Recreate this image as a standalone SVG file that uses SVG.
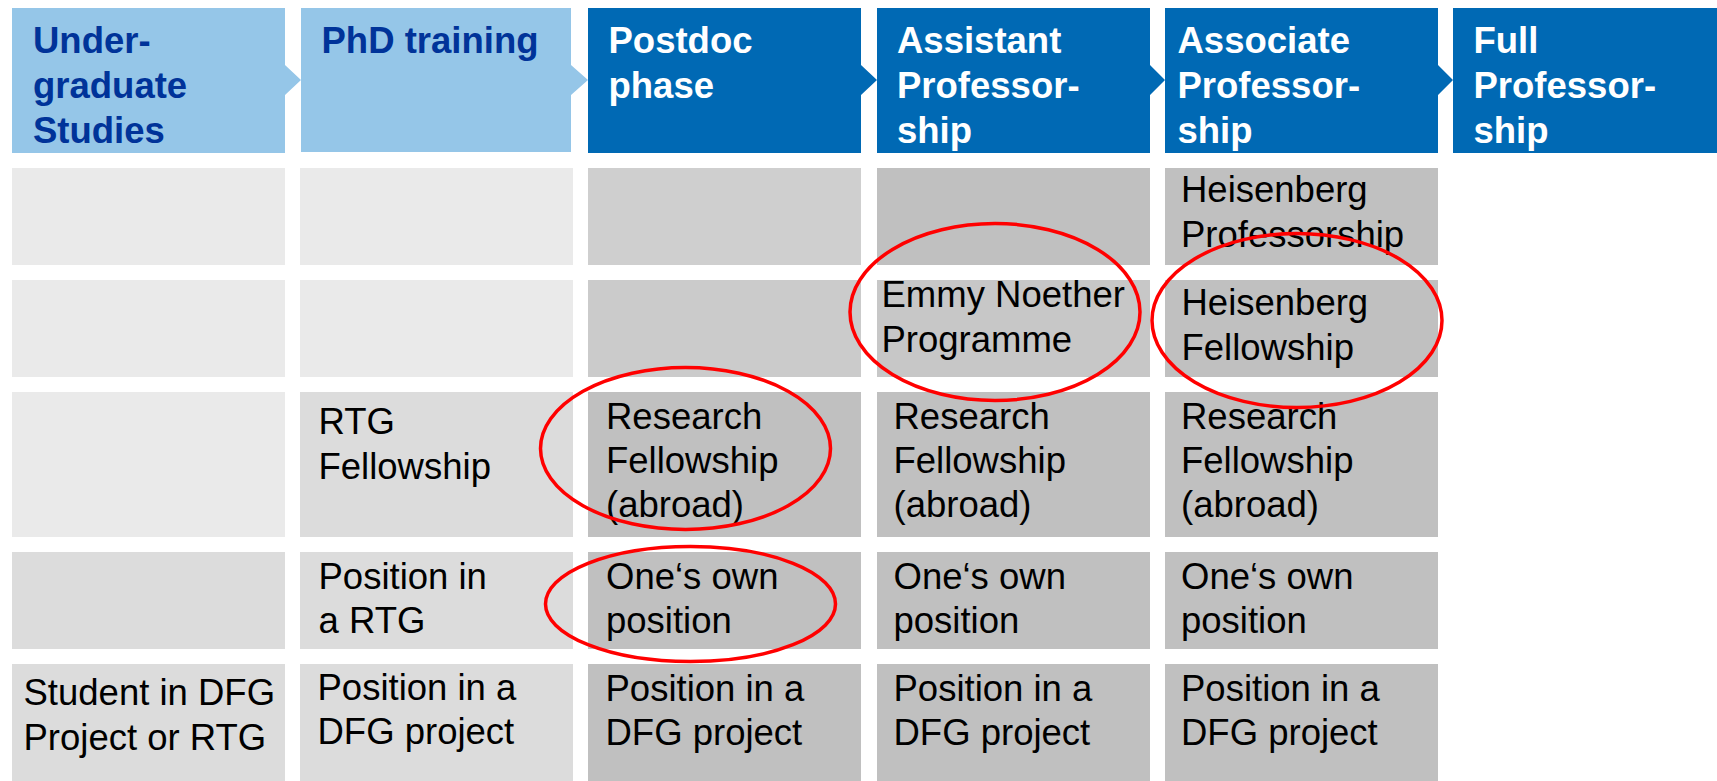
<svg xmlns="http://www.w3.org/2000/svg" width="1717" height="781" viewBox="0 0 1717 781">
<style>
.hl{fill:#95C6E8}
.hd{fill:#0069B4}
.th{font-family:"Liberation Sans",Arial,sans-serif;font-weight:bold;font-size:36.5px}
.thl{fill:#003399}
.thd{fill:#FFFFFF}
.t{font-family:"Liberation Sans",Arial,sans-serif;font-size:36.5px;fill:#000000}
.g1{fill:#EAEAEA}
.g2{fill:#DCDCDC}
.g3{fill:#CFCFCF}
.g3b{fill:#CBCBCB}
.g4{fill:#C0C0C0}
.g4b{fill:#C7C7C7}
.ring{fill:none;stroke:#FF0000;stroke-width:3.5}
</style>
<rect width="1717" height="781" fill="#FFFFFF"/>
<g id="headers">
<g id="h-undergrad">
<polygon class="hl" points="12,8 285,8 285,65 301,80 285,95 285,153 12,153"/>
<text class="th thl" x="33" y="53">Under-</text>
<text class="th thl" x="33" y="98">graduate</text>
<text class="th thl" x="33" y="143">Studies</text>
</g>
<g id="h-phd">
<polygon class="hl" points="301,8 571,8 571,65 588,80 571,95 571,152 301,152"/>
<text class="th thl" x="321.5" y="53">PhD training</text>
</g>
<g id="h-postdoc">
<polygon class="hd" points="588,8 861,8 861,65 877,80 861,95 861,153 588,153"/>
<text class="th thd" x="608.5" y="53">Postdoc</text>
<text class="th thd" x="608.5" y="98">phase</text>
</g>
<g id="h-assistant">
<polygon class="hd" points="877,8 1150,8 1150,65 1165,80 1150,95 1150,153 877,153"/>
<text class="th thd" x="897" y="53">Assistant</text>
<text class="th thd" x="897" y="98">Professor-</text>
<text class="th thd" x="897" y="143">ship</text>
</g>
<g id="h-associate">
<polygon class="hd" points="1165,8 1438,8 1438,65 1453,80 1438,95 1438,153 1165,153"/>
<text class="th thd" x="1177.5" y="53">Associate</text>
<text class="th thd" x="1177.5" y="98">Professor-</text>
<text class="th thd" x="1177.5" y="143">ship</text>
</g>
<g id="h-full">
<rect class="hd" x="1453" y="8" width="264" height="145"/>
<text class="th thd" x="1473.5" y="53">Full</text>
<text class="th thd" x="1473.5" y="98">Professor-</text>
<text class="th thd" x="1473.5" y="143">ship</text>
</g>
</g>
<g id="grid">
<g id="c1r1"><rect class="g1" x="12" y="168" width="273" height="97"/></g>
<g id="c1r2"><rect class="g1" x="12" y="280" width="273" height="97"/></g>
<g id="c1r3"><rect class="g1" x="12" y="392" width="273" height="145"/></g>
<g id="c1r4"><rect class="g2" x="12" y="552" width="273" height="97"/></g>
<g id="c1r5"><rect class="g2" x="12" y="664" width="273" height="117"/>
<text class="t" x="23.5" y="705">Student in DFG</text>
<text class="t" x="23.5" y="750">Project or RTG</text></g>

<g id="c2r1"><rect class="g1" x="300" y="168" width="273" height="97"/></g>
<g id="c2r2"><rect class="g1" x="300" y="280" width="273" height="97"/></g>
<g id="c2r3"><rect class="g2" x="300" y="392" width="273" height="145"/>
<text class="t" x="318.5" y="434">RTG</text>
<text class="t" x="318.5" y="479">Fellowship</text></g>
<g id="c2r4"><rect class="g2" x="300" y="552" width="273" height="97"/>
<text class="t" x="318.5" y="589">Position in</text>
<text class="t" x="318.5" y="633">a RTG</text></g>
<g id="c2r5"><rect class="g2" x="300" y="664" width="273" height="117"/>
<text class="t" x="317.5" y="700">Position in a</text>
<text class="t" x="317.5" y="744">DFG project</text></g>

<g id="c3r1"><rect class="g3" x="588" y="168" width="273" height="97"/></g>
<g id="c3r2"><rect class="g3b" x="588" y="280" width="273" height="97"/></g>
<g id="c3r3"><rect class="g4" x="588" y="392" width="273" height="145"/>
<text class="t" x="606" y="429">Research</text>
<text class="t" x="606" y="473">Fellowship</text>
<text class="t" x="606" y="517">(abroad)</text></g>
<g id="c3r4"><rect class="g4" x="588" y="552" width="273" height="97"/>
<text class="t" x="606" y="588.5">One‘s own</text>
<text class="t" x="606" y="633">position</text></g>
<g id="c3r5"><rect class="g4" x="588" y="664" width="273" height="117"/>
<text class="t" x="605.5" y="700.5">Position in a</text>
<text class="t" x="605.5" y="745">DFG project</text></g>

<g id="c4r1"><rect class="g4" x="877" y="168" width="273" height="97"/></g>
<g id="c4r2"><rect class="g4b" x="877" y="280" width="273" height="97"/>
<text class="t" x="881.5" y="306.5">Emmy Noether</text>
<text class="t" x="881.5" y="351.5">Programme</text></g>
<g id="c4r3"><rect class="g4" x="877" y="392" width="273" height="145"/>
<text class="t" x="893.5" y="429">Research</text>
<text class="t" x="893.5" y="473">Fellowship</text>
<text class="t" x="893.5" y="517">(abroad)</text></g>
<g id="c4r4"><rect class="g4" x="877" y="552" width="273" height="97"/>
<text class="t" x="893.5" y="588.5">One‘s own</text>
<text class="t" x="893.5" y="633">position</text></g>
<g id="c4r5"><rect class="g4" x="877" y="664" width="273" height="117"/>
<text class="t" x="893.5" y="700.5">Position in a</text>
<text class="t" x="893.5" y="745">DFG project</text></g>

<g id="c5r1"><rect class="g4" x="1165" y="168" width="273" height="97"/>
<text class="t" x="1181" y="201.5">Heisenberg</text>
<text class="t" x="1181" y="246.5">Professorship</text></g>
<g id="c5r2"><rect class="g4" x="1165" y="280" width="273" height="97"/>
<text class="t" x="1181.5" y="315">Heisenberg</text>
<text class="t" x="1181.5" y="360">Fellowship</text></g>
<g id="c5r3"><rect class="g4" x="1165" y="392" width="273" height="145"/>
<text class="t" x="1181" y="429">Research</text>
<text class="t" x="1181" y="473">Fellowship</text>
<text class="t" x="1181" y="517">(abroad)</text></g>
<g id="c5r4"><rect class="g4" x="1165" y="552" width="273" height="97"/>
<text class="t" x="1181" y="588.5">One‘s own</text>
<text class="t" x="1181" y="633">position</text></g>
<g id="c5r5"><rect class="g4" x="1165" y="664" width="273" height="117"/>
<text class="t" x="1181" y="700.5">Position in a</text>
<text class="t" x="1181" y="745">DFG project</text></g>
</g>
<g id="connectors"></g>
<g id="highlights">
<ellipse class="ring" cx="995" cy="312" rx="145" ry="88.5"/>
<ellipse class="ring" cx="1297" cy="320.5" rx="145" ry="87"/>
<ellipse class="ring" cx="685.5" cy="448.5" rx="145" ry="81"/>
<ellipse class="ring" cx="690.5" cy="604" rx="145" ry="57.5"/>
</g>
</svg>
